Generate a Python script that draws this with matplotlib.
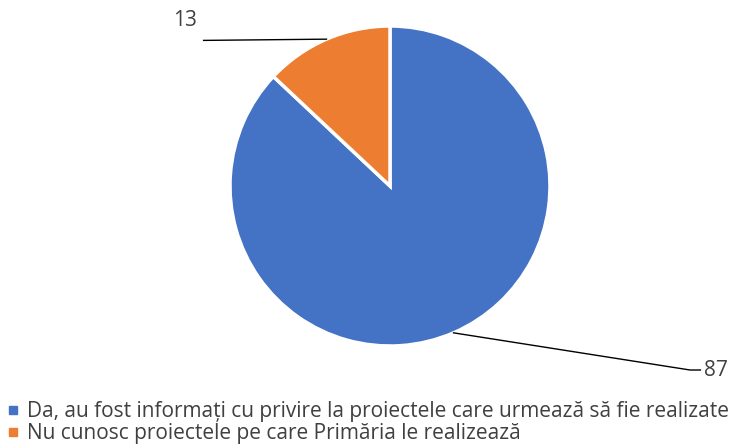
import numpy as np
import matplotlib.pyplot as plt
from matplotlib.lines import Line2D

labels = ["Da, au fost informați cu privire la proiectele care urmează să fie realizate",
          "Nu cunosc proiectele pe care Primăria le realizează"]
values = [87, 13]
colors = ["#4472C4", "#ED7D31"]

plt.rcParams['font.family'] = ['Liberation Sans Narrow', 'Open Sans', 'DejaVu Sans']

W, H = 738, 444
fig = plt.figure(figsize=(W/100, H/100), dpi=100)
cx, cy, r = 390, 186, 160
ax = fig.add_axes([(cx-r)/W, (H-cy-r)/H, 2*r/W, 2*r/H])
wedges, _ = ax.pie(values, colors=colors, startangle=90, counterclock=False,
                   wedgeprops=dict(edgecolor="white", linewidth=2.5))
ax.set_xlim(-1, 1)
ax.set_ylim(-1, 1)
ax.set_aspect("equal")
ax.axis("off")

# leader lines + labels
# 87 (blue)
w = wedges[0]
a = np.deg2rad((w.theta1 + w.theta2) / 2)
p = (np.cos(a), np.sin(a))
ax.plot([p[0], 1.875, 1.94], [p[1], -1.15, -1.15], color="black", lw=1, clip_on=False)
ax.text(1.96, -1.15, str(values[0]), ha="left", va="center", fontsize=15,
        color="#404040", clip_on=False)
# 13 (orange)
w = wedges[1]
a = np.deg2rad((w.theta1 + w.theta2) / 2)
p = (np.cos(a), np.sin(a))
ax.plot([p[0], -1.165], [p[1], 0.91], color="black", lw=1, clip_on=False)
ax.text(-1.28, 0.97, str(values[1]), ha="center", va="bottom", fontsize=15,
        color="#404040", clip_on=False)

handles = [Line2D([], [], marker="s", linestyle="none", markersize=6,
                  markerfacecolor=c, markeredgecolor=c) for c in colors]
fig.legend(handles, labels, loc="upper left", bbox_to_anchor=(0.0, (H-395)/H),
           frameon=False, fontsize=15, labelcolor="#404040", handlelength=0.6,
           handletextpad=0.4, borderaxespad=0, labelspacing=0.05, borderpad=0.3)

fig.savefig("out.png", dpi=100)
